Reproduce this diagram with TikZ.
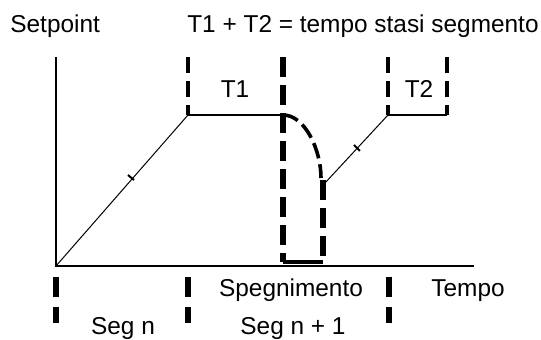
\documentclass[tikz,border=0pt]{standalone}
\usepackage{fontspec}
\setmainfont{Liberation Sans}
\usetikzlibrary{positioning}

\begin{document}
\begin{tikzpicture}[x=0.5pt,y=-0.5pt,
    lbl/.style={inner sep=0pt,anchor=base,font=\fontsize{12.2}{14}\selectfont},
    axis line/.style={line width=1pt},
    ramp line/.style={line width=0.5pt},
    flat line/.style={line width=1pt},
    seg dash/.style={line width=2.4pt,dash pattern=on 8pt off 4pt},
    low dash/.style={line width=2.6pt,dash pattern=on 10pt off 5pt},
    off dash/.style={line width=2.8pt,dash pattern=on 10pt off 4pt} ]
    \useasboundingbox (0,0) rectangle (541,340);
    % axes
    \coordinate (O) at (56,266);
    \coordinate (Ytop) at (56,57);
    \coordinate (Xend) at (474,266);
    \draw [axis line] (Ytop) -- (O) -- (Xend);
    % segment n
    \coordinate (R1) at (188,115);
    \coordinate (R1top) at (188,57);
    \coordinate (P1) at (283,115);
    \draw [ramp line] (O) -- (R1);
    \draw [flat line] (R1) -- (P1);
    \draw [seg dash] (R1top) -- (R1);
    \draw [line width=1pt] (128,175) -- (134,180);
    % spegnimento
    \coordinate (S1top) at (283,57);
    \coordinate (S1bot) at (283,262);
    \coordinate (S2top) at (323,180);
    \coordinate (S2bot) at (323,262);
    \coordinate (C1) at (321,178);
    \draw [off dash] (S1top) -- (S1bot);
    \draw [off dash] (S2top) -- (S2bot);
    \draw [line width=2pt] (S1bot) -- (S2bot);
    \draw [line width=1.8pt,dash pattern=on 8pt off 3pt] (P1) .. controls (305,115) and (321,150) .. (C1);
    % segment n + 1
    \coordinate (R2a) at (325,183);
    \coordinate (R2) at (388,115);
    \coordinate (R2top) at (388,57);
    \coordinate (P2) at (447,115);
    \coordinate (P2top) at (447,57);
    \draw [ramp line] (R2a) -- (R2);
    \draw [flat line] (R2) -- (P2);
    \draw [seg dash] (R2top) -- (R2);
    \draw [seg dash] (P2top) -- (P2);
    \draw [line width=1pt] (354,145) -- (360,151);
    % below the time axis
    \coordinate (L0a) at (56,277);
    \coordinate (L0b) at (56,323);
    \coordinate (L1a) at (188,277);
    \coordinate (L1b) at (188,323);
    \coordinate (L2a) at (389,277);
    \coordinate (L2b) at (389,323);
    \draw [low dash] (L0a) -- (L0b);
    \draw [low dash] (L1a) -- (L1b);
    \draw [low dash] (L2a) -- (L2b);
    % labels
    \node [lbl,anchor=base west] (setpoint) at (10,33) {Setpoint};
    \node [lbl,anchor=base east] (sum) at (539,33) {T1 + T2 = tempo stasi segmento};
    \node [lbl] (t1) at (235,98) {T1};
    \node [lbl] (t2) at (419,98) {T2};
    \node [lbl] (speg) at (291,297) {Spegnimento};
    \node [lbl] (tempo) at (468,297) {Tempo};
    \node [lbl] (segn) at (123,335) {Seg n};
    \node [lbl] (segn1) at (293,335) {Seg n + 1};
\end{tikzpicture}
\end{document}
